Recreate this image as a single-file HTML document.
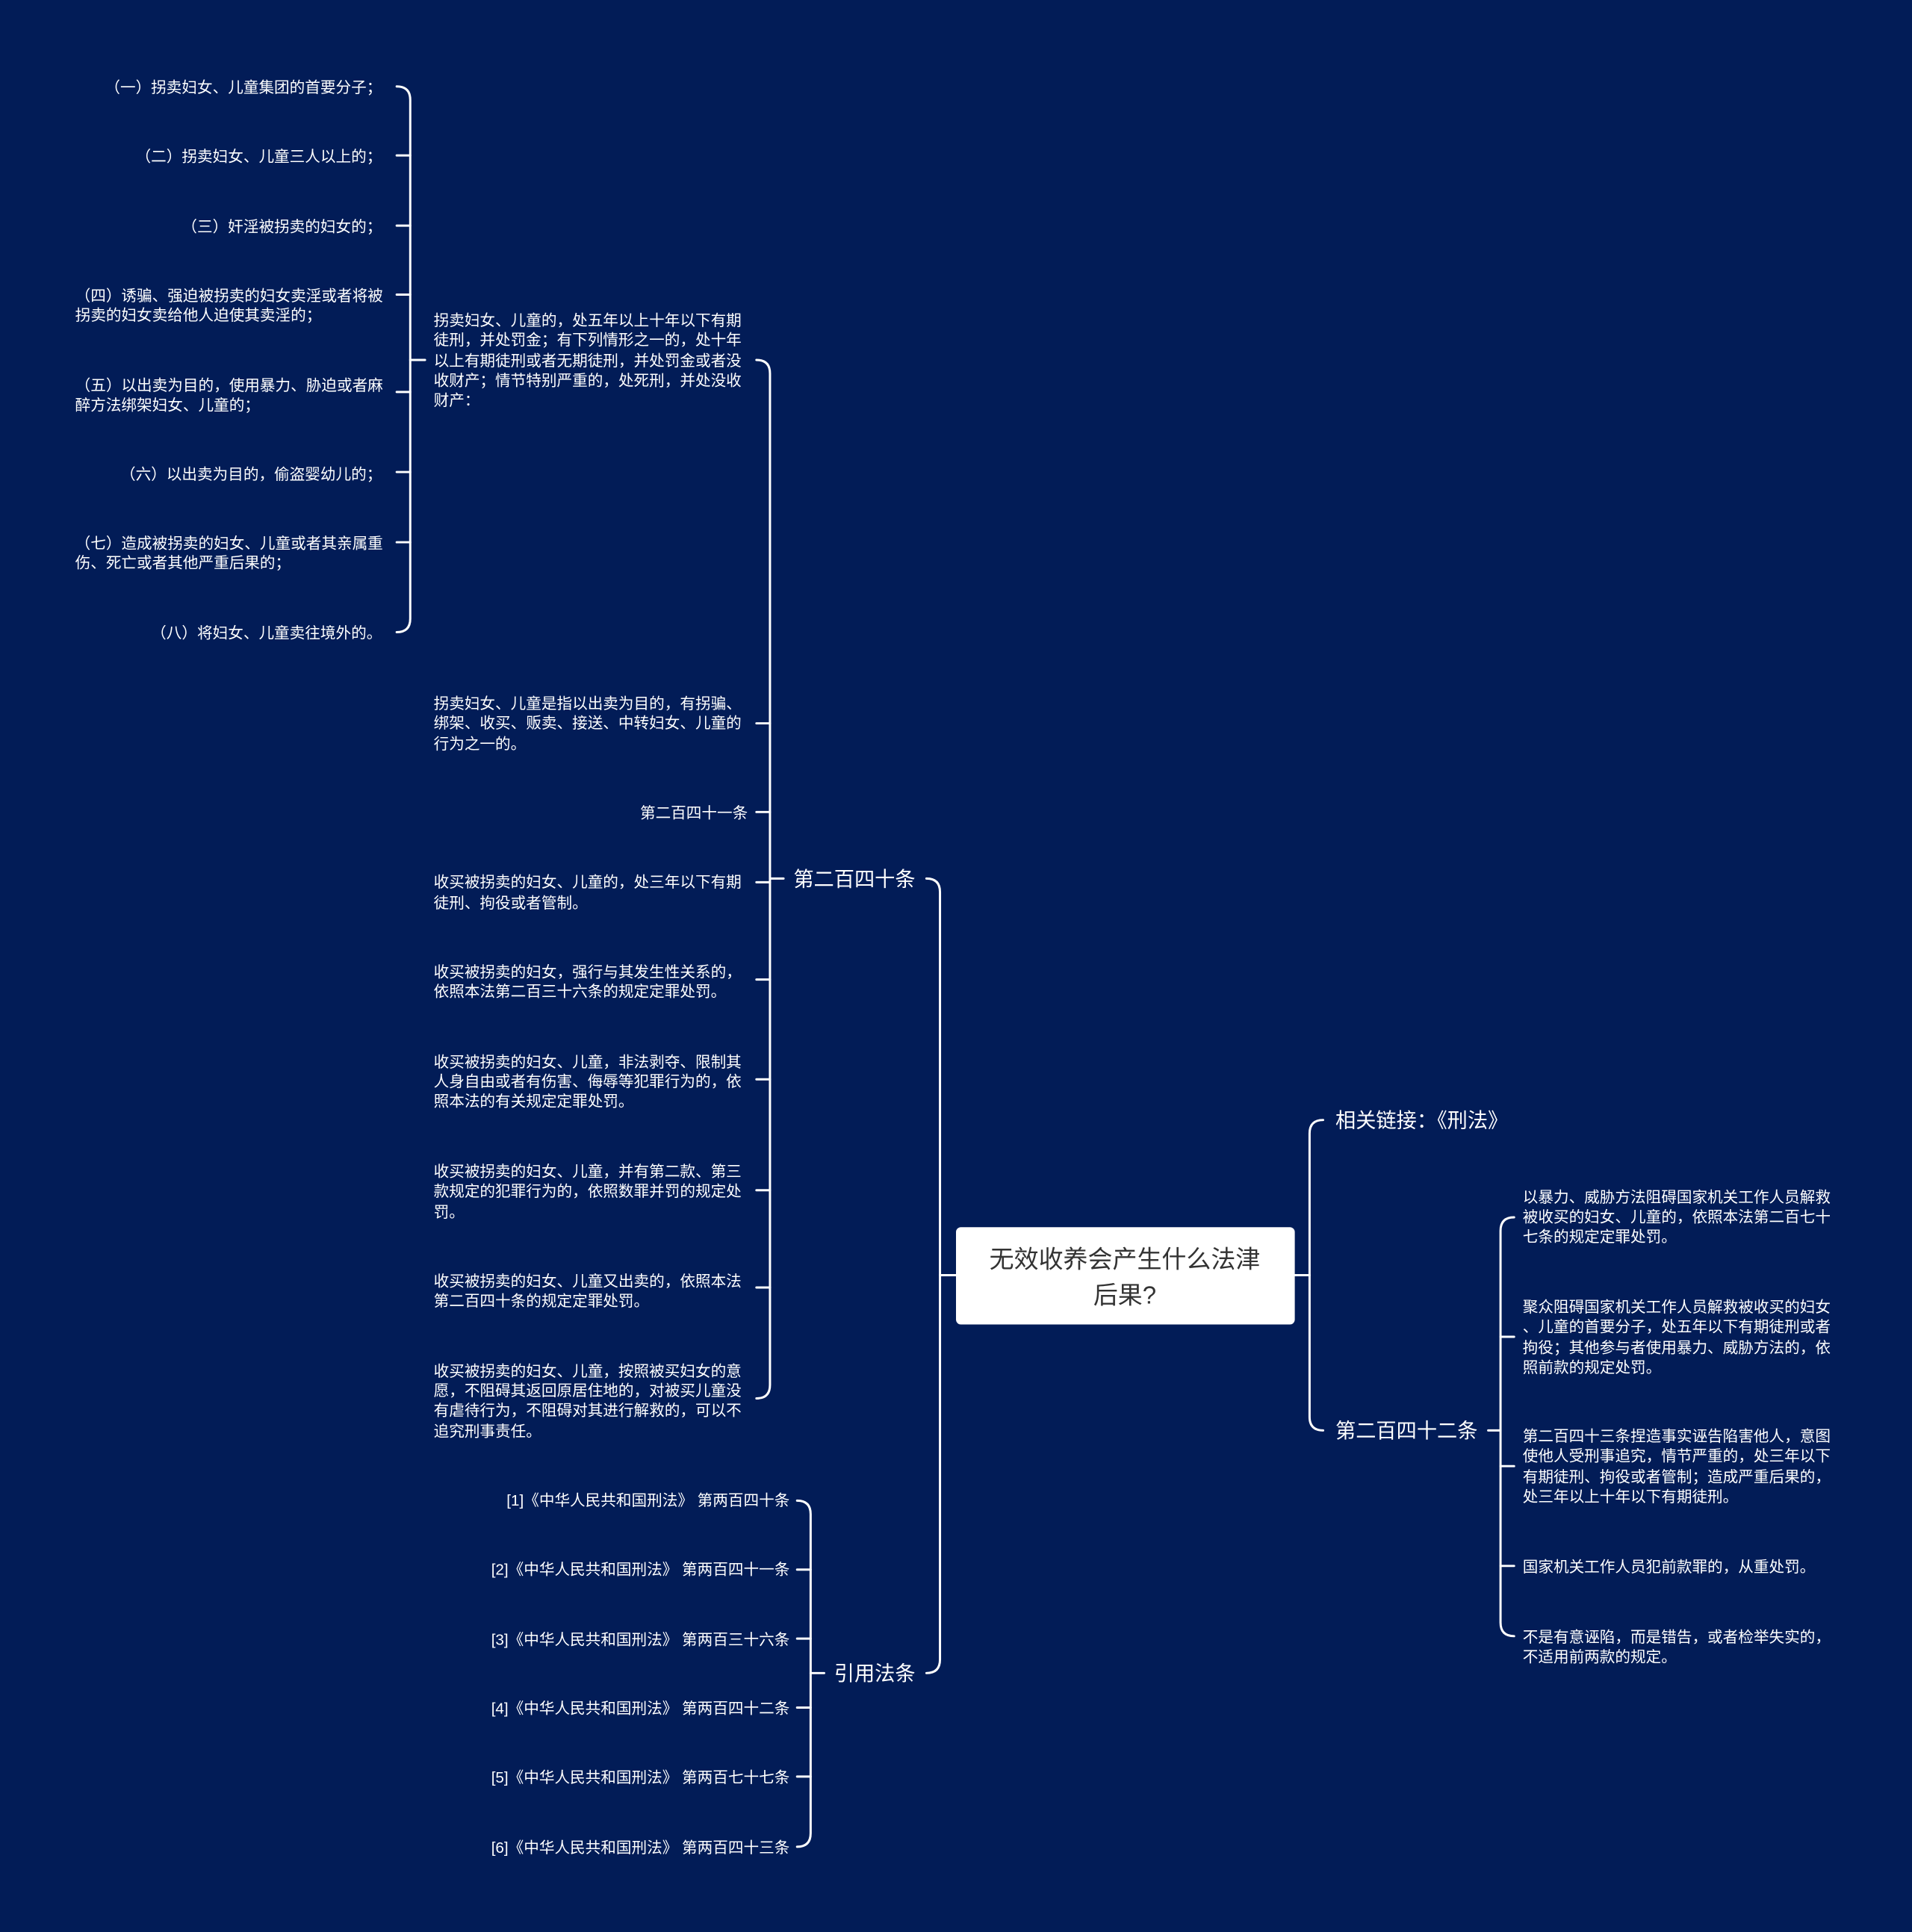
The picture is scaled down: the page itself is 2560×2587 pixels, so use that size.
<!DOCTYPE html>
<html><head><meta charset="utf-8"><style>
html,body{margin:0;padding:0;background:#021c57;}
svg{display:block}
text{font-family:"Liberation Sans","Noto Sans CJK SC",sans-serif;fill:#fff}
.s{font-size:12.5px}
.m{font-size:16.5px}
</style></head><body>
<svg width="2560" height="2587" viewBox="0 0 1552 1568" xmlns="http://www.w3.org/2000/svg">
<rect width="1552" height="1568" fill="#021c57"/>
<g fill="none" stroke="#fff" stroke-width="1.8" stroke-linecap="round">
<!-- center to left trunk -->
<path d="M776,1035 L763,1035"/>
<path d="M752,713 Q763,713 763,724 L763,1347 Q763,1358 752,1358"/>
<!-- center to right trunk -->
<path d="M1051,1035 L1063,1035"/>
<path d="M1074,909 Q1063,909 1063,920 L1063,1150 Q1063,1161 1074,1161"/>
<!-- 第二百四十条 group -->
<path d="M636,713 L625,713"/>
<path d="M614,292 Q625,292 625,303 L625,1124 Q625,1135 614,1135"/>
<path d="M614,587 L625,587 M614,659 L625,659 M614,716 L625,716 M614,795 L625,795 M614,876 L625,876 M614,966 L625,966 M614,1045 L625,1045"/>
<!-- sub group -->
<path d="M345,292 L333,292"/>
<path d="M322,70 Q333,70 333,81 L333,502 Q333,513 322,513"/>
<path d="M322,126 L333,126 M322,183 L333,183 M322,239 L333,239 M322,318 L333,318 M322,383 L333,383 M322,440 L333,440"/>
<!-- 引用法条 group -->
<path d="M669,1358 L658,1358"/>
<path d="M647,1218 Q658,1218 658,1229 L658,1488 Q658,1499 647,1499"/>
<path d="M647,1274 L658,1274 M647,1330 L658,1330 M647,1386 L658,1386 M647,1442 L658,1442"/>
<!-- 第二百四十二条 group -->
<path d="M1208,1161 L1218,1161"/>
<path d="M1229,988 Q1218,988 1218,999 L1218,1317 Q1218,1328 1229,1328"/>
<path d="M1218,1085 L1229,1085 M1218,1190 L1229,1190 M1218,1271 L1229,1271"/>
</g>
<rect x="776" y="996" width="275" height="79" rx="4" fill="#fff"/>
<text x="913" y="1029" text-anchor="middle" style="font-size:20px;fill:#333">无效收养会产生什么法津</text>
<text x="913" y="1058" text-anchor="middle" style="font-size:20px;fill:#333">后果?</text>
<text class="m" x="743" y="719" text-anchor="end">第二百四十条</text>
<text class="m" x="743" y="1364" text-anchor="end">引用法条</text>
<text class="m" x="1084" y="915">相关链接：《刑法》</text>
<text class="m" x="1084" y="1167">第二百四十二条</text>
<g class="s" text-anchor="end">
<text x="310" y="75">（一）拐卖妇女、儿童集团的首要分子；</text>
<text x="310" y="131">（二）拐卖妇女、儿童三人以上的；</text>
<text x="310" y="188">（三）奸淫被拐卖的妇女的；</text>
<text x="310" y="389">（六）以出卖为目的，偷盗婴幼儿的；</text>
<text x="310" y="518">（八）将妇女、儿童卖往境外的。</text>
<text x="607" y="664">第二百四十一条</text>
<text x="641" y="1222">[1]《中华人民共和国刑法》 第两百四十条</text>
<text x="641" y="1278">[2]《中华人民共和国刑法》 第两百四十一条</text>
<text x="641" y="1335">[3]《中华人民共和国刑法》 第两百三十六条</text>
<text x="641" y="1391">[4]《中华人民共和国刑法》 第两百四十二条</text>
<text x="641" y="1447">[5]《中华人民共和国刑法》 第两百七十七条</text>
<text x="641" y="1504">[6]《中华人民共和国刑法》 第两百四十三条</text>
</g>
<g class="s">
<text x="61" y="244">（四）诱骗、强迫被拐卖的妇女卖淫或者将被</text>
<text x="61" y="260">拐卖的妇女卖给他人迫使其卖淫的；</text>
<text x="61" y="317">（五）以出卖为目的，使用暴力、胁迫或者麻</text>
<text x="61" y="333">醉方法绑架妇女、儿童的；</text>
<text x="61" y="445">（七）造成被拐卖的妇女、儿童或者其亲属重</text>
<text x="61" y="461">伤、死亡或者其他严重后果的；</text>
<text x="352" y="264">拐卖妇女、儿童的，处五年以上十年以下有期</text>
<text x="352" y="280">徒刑，并处罚金；有下列情形之一的，处十年</text>
<text x="352" y="297">以上有期徒刑或者无期徒刑，并处罚金或者没</text>
<text x="352" y="313">收财产；情节特别严重的，处死刑，并处没收</text>
<text x="352" y="329">财产：</text>
<text x="352" y="575">拐卖妇女、儿童是指以出卖为目的，有拐骗、</text>
<text x="352" y="591">绑架、收买、贩卖、接送、中转妇女、儿童的</text>
<text x="352" y="608">行为之一的。</text>
<text x="352" y="720">收买被拐卖的妇女、儿童的，处三年以下有期</text>
<text x="352" y="737">徒刑、拘役或者管制。</text>
<text x="352" y="793">收买被拐卖的妇女，强行与其发生性关系的，</text>
<text x="352" y="809">依照本法第二百三十六条的规定定罪处罚。</text>
<text x="352" y="866">收买被拐卖的妇女、儿童，非法剥夺、限制其</text>
<text x="352" y="882">人身自由或者有伤害、侮辱等犯罪行为的，依</text>
<text x="352" y="898">照本法的有关规定定罪处罚。</text>
<text x="352" y="955">收买被拐卖的妇女、儿童，并有第二款、第三</text>
<text x="352" y="971">款规定的犯罪行为的，依照数罪并罚的规定处</text>
<text x="352" y="988">罚。</text>
<text x="352" y="1044">收买被拐卖的妇女、儿童又出卖的，依照本法</text>
<text x="352" y="1060">第二百四十条的规定定罪处罚。</text>
<text x="352" y="1117">收买被拐卖的妇女、儿童，按照被买妇女的意</text>
<text x="352" y="1133">愿，不阻碍其返回原居住地的，对被买儿童没</text>
<text x="352" y="1149">有虐待行为，不阻碍对其进行解救的，可以不</text>
<text x="352" y="1166">追究刑事责任。</text>
<text x="1236" y="976">以暴力、威胁方法阻碍国家机关工作人员解救</text>
<text x="1236" y="992">被收买的妇女、儿童的，依照本法第二百七十</text>
<text x="1236" y="1008">七条的规定定罪处罚。</text>
<text x="1236" y="1065">聚众阻碍国家机关工作人员解救被收买的妇女</text>
<text x="1236" y="1081">、儿童的首要分子，处五年以下有期徒刑或者</text>
<text x="1236" y="1098">拘役；其他参与者使用暴力、威胁方法的，依</text>
<text x="1236" y="1114">照前款的规定处罚。</text>
<text x="1236" y="1170">第二百四十三条捏造事实诬告陷害他人，意图</text>
<text x="1236" y="1186">使他人受刑事追究，情节严重的，处三年以下</text>
<text x="1236" y="1203">有期徒刑、拘役或者管制；造成严重后果的，</text>
<text x="1236" y="1219">处三年以上十年以下有期徒刑。</text>
<text x="1236" y="1276">国家机关工作人员犯前款罪的，从重处罚。</text>
<text x="1236" y="1333">不是有意诬陷，而是错告，或者检举失实的，</text>
<text x="1236" y="1349">不适用前两款的规定。</text>
</g>
</svg>
</body></html>
